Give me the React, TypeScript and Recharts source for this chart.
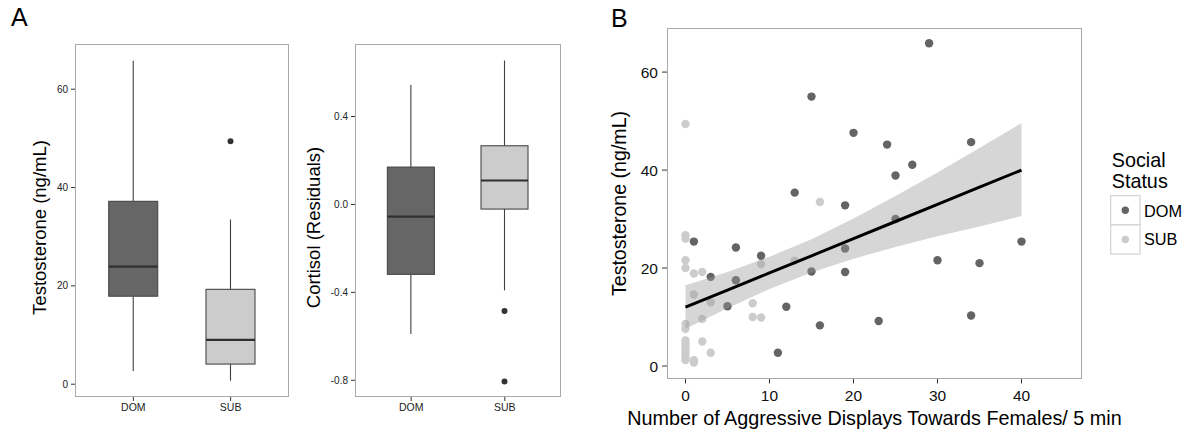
import React from 'react';
import { ComposedChart, Bar, Scatter, Area, Line, XAxis, YAxis, Label, Legend } from 'recharts';

const FONT = '"Liberation Sans", Arial, Helvetica, sans-serif';

const groups = ['DOM', 'SUB'];
const groupFill = ['#666666', '#cccccc'];

// Testosterone by social status (box summaries)
const testoMin = [2.7, 0.7];
const testoQ1 = [17.9, 4.1];
const testoMedian = [23.9, 9.0];
const testoQ3 = [37.2, 19.3];
const testoMax = [65.8, 33.5];
const testoOutliers = [[], [49.4]];
const testoTicks = [0, 20, 40, 60];

// Cortisol residuals by social status
const cortMin = [-0.589, -0.391];
const cortQ1 = [-0.318, -0.021];
const cortMedian = [-0.055, 0.109];
const cortQ3 = [0.17, 0.267];
const cortMax = [0.543, 0.655];
const cortOutliers = [[], [-0.485, -0.805]];
const cortTicks = [-0.8, -0.4, 0, 0.4];

// Aggressive displays vs testosterone, one point per animal
const domDisplays = [1, 3, 5, 6, 6, 9, 11, 12, 13, 15, 15, 16, 19, 19, 19, 20, 23, 24, 25, 25, 27, 29, 30, 34, 34, 35, 40];
const domTesto = [25.4, 18.2, 12.2, 24.2, 17.5, 22.5, 2.7, 12.1, 35.4, 55.0, 19.3, 8.3, 32.8, 24.0, 19.2, 47.6, 9.2, 45.2, 38.9, 30.0, 41.1, 65.9, 21.6, 45.7, 10.3, 21.0, 25.4];
const subDisplays = [0, 0, 0, 0, 0, 0, 0, 0, 0, 0, 0, 0, 0, 0, 1, 1, 1, 1, 2, 2, 2, 3, 3, 8, 8, 9, 9, 13, 16];
const subTesto = [49.4, 26.7, 26.0, 21.6, 20.0, 8.6, 7.6, 5.2, 4.5, 3.8, 3.1, 2.4, 1.7, 1.2, 18.9, 14.6, 1.2, 0.7, 19.2, 9.6, 5.0, 13.0, 2.7, 12.8, 10.0, 20.8, 9.9, 21.5, 33.5];

// Linear fit with 95% band
const fitX = [0, 5, 10, 15, 20, 25, 30, 35, 40];
const fitY = [12, 15.5, 19, 22.5, 26, 29.5, 33, 36.5, 40];
const ciLow = [7.6, 11.8, 15.7, 19.1, 21.9, 24.3, 26.5, 28.5, 30.6];
const ciHigh = [16.5, 19.2, 22.3, 25.9, 30.1, 34.7, 39.5, 44.5, 49.6];
const displayTicks = [0, 10, 20, 30, 40];

const testoRows = groups.map((name, i) => ({
  name,
  range: [testoMin[i], testoMax[i]],
  min: testoMin[i], q1: testoQ1[i], median: testoMedian[i], q3: testoQ3[i], max: testoMax[i],
  outliers: testoOutliers[i], fill: groupFill[i],
}));

const cortRows = groups.map((name, i) => ({
  name,
  range: [cortMin[i], cortMax[i]],
  min: cortMin[i], q1: cortQ1[i], median: cortMedian[i], q3: cortQ3[i], max: cortMax[i],
  outliers: cortOutliers[i], fill: groupFill[i],
}));

const domPoints = domDisplays.map((x, i) => ({ x, y: domTesto[i] }));
const subPoints = subDisplays.map((x, i) => ({ x, y: subTesto[i] }));
const fitRows = fitX.map((x, i) => ({ x, fit: fitY[i], ci: [ciLow[i], ciHigh[i]] }));

// whisker-to-whisker bar, box and median drawn from the bar's pixel span
function BoxShape(props: any) {
  const { x, y, width, height, payload } = props;
  const top = Math.min(y, y + height);
  const bottom = Math.max(y, y + height);
  const span = payload.max - payload.min;
  const py = (v: number) => top + ((payload.max - v) / span) * (bottom - top);
  const cx = x + width / 2;
  return (
    <g>
      <line x1={cx} x2={cx} y1={py(payload.max)} y2={py(payload.q3)} stroke="#404040" strokeWidth={1.1} />
      <line x1={cx} x2={cx} y1={py(payload.q1)} y2={py(payload.min)} stroke="#404040" strokeWidth={1.1} />
      <rect x={x} y={py(payload.q3)} width={width} height={py(payload.q1) - py(payload.q3)}
        fill={payload.fill} stroke="#474747" strokeWidth={1.1} />
      <line x1={x} x2={x + width} y1={py(payload.median)} y2={py(payload.median)} stroke="#303030" strokeWidth={2.2} />
      {payload.outliers.map((v: number, k: number) => (
        <circle key={k} cx={cx} cy={py(v)} r={3} fill="#333333" />
      ))}
    </g>
  );
}

interface BoxPanelProps {
  rows: any[];
  left: number;
  width: number;
  axisWidth: number;
  right: number;
  domain: [number, number];
  ticks: number[];
  title: string;
  titleOffset: number;
  barSize: number;
  format?: (v: number) => string;
}

const TOP_A = 44;
const XAXIS_A = 36;
const HEIGHT = 433;

function BoxPanel({ rows, left, width, axisWidth, right, domain, ticks, title, titleOffset, barSize, format }: BoxPanelProps) {
  const plotW = width - axisWidth - right;
  const pad = plotW / 22;
  return (
    <div style={{ position: 'absolute', left, top: 0, width, height: HEIGHT }}>
      <div style={{ position: 'absolute', left: axisWidth, top: TOP_A, width: plotW, height: HEIGHT - TOP_A - XAXIS_A,
        border: '1px solid #a8a8a8', boxSizing: 'border-box' }} />
      <ComposedChart width={width} height={HEIGHT} data={rows} margin={{ top: TOP_A, right, bottom: 0, left: 0 }}>
        <XAxis dataKey="name" type="category" height={XAXIS_A} padding={{ left: pad, right: pad }} interval={0}
          axisLine={false} tickSize={4} tickMargin={3} tickLine={{ stroke: '#333' }}
          tick={{ fontSize: 10.5, fill: '#222', fontFamily: FONT }} />
        <YAxis type="number" width={axisWidth} domain={domain} ticks={ticks} allowDataOverflow axisLine={false}
          tickSize={4} tickMargin={3} tickLine={{ stroke: '#333' }} tickFormatter={format}
          tick={{ fontSize: 10, fill: '#222', fontFamily: FONT }}>
          <Label value={title} angle={-90} position="insideLeft" offset={titleOffset} dy={7}
            style={{ textAnchor: 'middle', fontSize: 18.5, fill: '#000', fontFamily: FONT }} />
        </YAxis>
        <Bar dataKey="range" barSize={barSize} shape={BoxShape} isAnimationActive={false} />
      </ComposedChart>
    </div>
  );
}

const domDot = (p: any) => <circle cx={p.cx} cy={p.cy} r={4.2} fill="#646464" />;
const subDot = (p: any) => <circle cx={p.cx} cy={p.cy} r={4.2} fill="#cccccc" />;

function StatusLegend(props: any) {
  const items = (props.payload || []).filter((p: any) => p.type !== 'none');
  return (
    <svg width={80} height={110} style={{ overflow: 'visible', fontFamily: FONT }}>
      <text x={3.7} y={18.7} fontSize={19.8} fill="#000">Social</text>
      <text x={3.7} y={40.3} fontSize={19.8} fill="#000">Status</text>
      {items.map((p: any, i: number) => (
        <g key={p.value}>
          <rect x={2.7} y={47.7 + i * 29.2} width={29.3} height={29.2} fill="#fff" stroke="#d2d2d2" strokeWidth={1.2} />
          <circle cx={17.3} cy={62.3 + i * 29.2} r={3.7} fill={p.color} />
          <text x={36} y={68.7 + i * 28.5} fontSize={16.3} fill="#000">{p.value}</text>
        </g>
      ))}
    </svg>
  );
}

function ScatterPanel() {
  const left = 580;
  const width = 610;
  const axisWidth = 87;
  const top = 28;
  const right = 108;
  const xAxisH = 54;
  return (
    <div style={{ position: 'absolute', left, top: 0, width, height: HEIGHT }}>
      <div style={{ position: 'absolute', left: axisWidth, top, width: width - axisWidth - right, height: HEIGHT - top - xAxisH,
        border: '1px solid #a8a8a8', boxSizing: 'border-box' }} />
      <ComposedChart width={width} height={HEIGHT} data={fitRows} margin={{ top, right, bottom: 0, left: 0 }}>
        <XAxis dataKey="x" type="number" height={xAxisH} domain={[-2.2, 47.2]} ticks={displayTicks} allowDataOverflow
          axisLine={false} tickSize={4.5} tickMargin={6} tickLine={{ stroke: '#333' }}
          tick={{ fontSize: 15.5, fill: '#111', fontFamily: FONT }}>
          <Label value="Number of Aggressive Displays Towards Females/ 5 min" position="insideBottom" offset={8}
            style={{ fontSize: 19.8, fill: '#000', fontFamily: FONT }} />
        </XAxis>
        <YAxis type="number" width={axisWidth} domain={[-2.65, 69]} ticks={testoTicks} allowDataOverflow axisLine={false}
          tickSize={5} tickMargin={4} tickLine={{ stroke: '#333' }}
          tick={{ fontSize: 15.5, fill: '#111', fontFamily: FONT }}>
          <Label value="Testosterone (ng/mL)" angle={-90} position="insideLeft" offset={38.7}
            style={{ textAnchor: 'middle', fontSize: 19.6, fill: '#000', fontFamily: FONT }} />
        </YAxis>
        <Scatter name="DOM" data={domPoints} dataKey="y" fill="#646464" shape={domDot} zIndex={50} isAnimationActive={false} />
        <Scatter name="SUB" data={subPoints} dataKey="y" fill="#cccccc" shape={subDot} zIndex={50} isAnimationActive={false} />
        <Area dataKey="ci" type="linear" stroke="none" fill="#999999" fillOpacity={0.4} legendType="none"
          dot={false} activeDot={false} isAnimationActive={false} />
        <Line dataKey="fit" type="linear" stroke="#000" strokeWidth={3} dot={false} activeDot={false}
          legendType="none" isAnimationActive={false} />
        <Legend layout="vertical" align="center" verticalAlign="middle" content={StatusLegend}
          wrapperStyle={{ left: 528, top: 148, width: 80, height: 110 }} />
      </ComposedChart>
    </div>
  );
}

const panelLetter: React.CSSProperties = {
  position: 'absolute', fontFamily: FONT, fontSize: 25, lineHeight: 1, color: '#000',
};

export default function App() {
  return (
    <div style={{ position: 'absolute', left: 0, top: 0, width: 1190, height: HEIGHT, background: '#fff', overflow: 'hidden' }}>
      <div style={{ ...panelLetter, left: 11, top: 5 }}>A</div>
      <div style={{ ...panelLetter, left: 611, top: 6 }}>B</div>
      <BoxPanel rows={testoRows} left={0} width={300} axisWidth={75} right={11} domain={[-2.6, 69.2]}
        ticks={testoTicks} title="Testosterone (ng/mL)" titleOffset={39.6} barSize={49} />
      <BoxPanel rows={cortRows} left={290} width={290} axisWidth={65} right={19} domain={[-0.876, 0.73]}
        ticks={cortTicks} title="Cortisol (Residuals)" titleOffset={23.3} barSize={47}
        format={(v: number) => v.toFixed(1)} />
      <ScatterPanel />
    </div>
  );
}
